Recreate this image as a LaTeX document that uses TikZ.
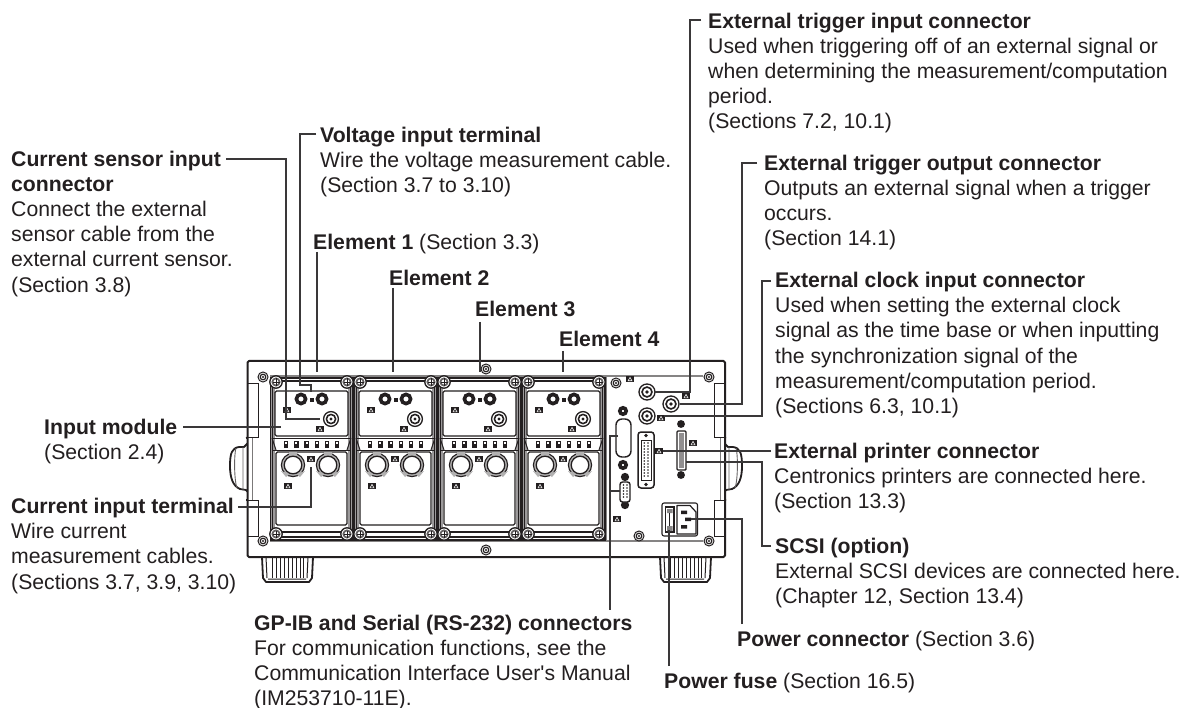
\documentclass[tikz,border=0pt]{standalone}
\usepackage{fontspec}
\setmainfont{Liberation Sans}
\newfontfamily\plainquote{Liberation Sans}
\definecolor{ink}{HTML}{231F20}
\definecolor{lead}{HTML}{3A3839}
\newcommand{\fsize}{\fontsize{21.2}{25.2}\selectfont}
\tikzset{
  x=1pt,y=-1pt,
  lab/.style={anchor=north west,inner sep=0pt,align=left,text=ink,font=\fsize},
  leader/.style={draw=lead,line width=1.1pt,line join=miter},
  body/.style={draw=ink,line width=2pt,line join=round},
  thinl/.style={draw=ink,line width=1pt},
  greyl/.style={draw=ink!55,line width=1.2pt},
  pics/wmark/.style={code={\fill[ink] (-3.6,-3.4) rectangle (3.6,3.4);\fill[white] (0,-2.2) -- (2.5,2.2) -- (-2.5,2.2) -- cycle;\fill[ink] (0,-.8) -- (1.3,1.5) -- (-1.3,1.5) -- cycle;}},
  pics/sscrew/.style={code={\draw[thinl,fill=white] (0,0) circle (5);\draw[ink,line width=1.2pt,fill=white] (0,0) circle (2.8);\fill[ink] (0,0) circle (1.1);}},
  pics/cscrew/.style={code={\draw[ink,line width=1.3pt,fill=white] (0,0) circle (6.2);\draw[ink!70,line width=1.8pt] (0,0) circle (3.6);\draw[ink,line width=.6pt] (-3.5,0)--(3.5,0) (0,-3.5)--(0,3.5);}},
  pics/bnc/.style={code={\draw[ink,line width=1.3pt,fill=white] (0,0) circle (#1);\draw[ink,line width=1.6pt] (0,0) circle (#1*.62);\fill[ink] (0,0) circle (#1*.22);}},
  pics/ring/.style={code={\draw[ink,line width=3.6pt,fill=white] (0,0) circle (#1);}},
  pics/cterm/.style={code={
    \draw[ink,line width=1.1pt,fill=ink!35] (0,0) circle (11.6);
    \fill[ink!35] (-4,-12.8) rectangle (4,-9) (-12,6) -- (-7,12) -- (-3,9) -- cycle (12,6) -- (7,12) -- (3,9) -- cycle;
    \draw[ink,line width=1.3pt,fill=white] (0,0) circle (8.8);}},
  pics/module/.style={code={
    \fill[ink!45] (270,379) rectangle (275,538);
    \fill[ink!45] (348,379) rectangle (353,538);
    \draw[ink,line width=1.1pt] (270.5,378) rectangle (353,540);
    \draw[ink,line width=1.4pt] (274,381) -- (349,381) (274,532) -- (349,532);
    \draw[ink,line width=1.8pt] (274,537) -- (349,537);
    \draw[ink,line width=1pt] (272.5,380) -- (272.5,536) (350.5,380) -- (350.5,536);
    \draw[ink,line width=1.4pt,fill=white,rounded corners=1.5pt] (275,391) rectangle (348,436);
    \draw[ink,line width=1.4pt,fill=white,rounded corners=1.5pt] (276,452) rectangle (347,525);
    \draw[ink,line width=1pt] (272,438) -- (351,438) (272,450) -- (351,450);
    \draw[ink,line width=1pt] (272,438) -- (276,450) (351,438) -- (347,450);
    \foreach \xx in {286,296.3,306.6,317,327,337}{\fill[ink] (\xx-2.2,440.5) rectangle (\xx+2.2,447.5);\fill[white] (\xx-1,441.5) rectangle (\xx+1,444);}
    \pic at (301,399) {ring=4.6};
    \pic at (322,399) {ring=4.6};
    \fill[ink] (309.5,397.5) rectangle (314,402);
    \pic at (331,419) {bnc=7.4};
    \pic at (287,410) {wmark};
    \pic at (320,429) {wmark};
    \pic at (293,465) {cterm};
    \pic at (328,465) {cterm};
    \pic at (311,459) {wmark};
    \pic at (288,486) {wmark};
    \pic at (276,382) {cscrew};
    \pic at (347,382) {cscrew};
    \pic at (276,534) {cscrew};
    \pic at (347,534) {cscrew};
  }},
  pics/foot/.style={code={
    \draw[ink,line width=1.8pt,line join=round,fill=white] (0,0) -- (1,21) -- (4,25) -- (47,25) -- (50,21) -- (51,0);
    \draw[ink,line width=1pt] (4,0) -- (5,21) (46,0) -- (45,21) (6,22)--(44,22);
    \foreach \xx in {10,14,18,22,26,30,34,38,41}{\draw[ink,line width=1pt] (\xx,1) -- (\xx,21);}
  }},
  pics/grip/.style={code={
    \draw[ink,line width=1.8pt,line join=round] (-1,0) -- (3,-1) -- (3,3) -- (0,6) -- (-3,9) -- (-8,9) .. controls (-15,10) and (-17,15) .. (-17,28) .. controls (-17,40) and (-14,48) .. (-7,51) -- (-1,52) -- (1,54) -- (3,57) -- (3,62) -- (-1,62);
    \draw[ink!70,line width=.9pt] (-11,10) .. controls (-13,16) and (-13,42) .. (-10,50) (-4,9) -- (-4,52);
  }},
}
\begin{document}
\begin{tikzpicture}
\useasboundingbox (0,0) rectangle (1183,708);
\fill[white] (0,0) rectangle (1183,708);
% feet
\pic at (262,557) {foot};
\pic at (660,557) {foot};
% handles
\pic at (247,438) {grip};
\begin{scope}[xshift=972pt,xscale=-1]
\pic[transform shape] at (247,438) {grip};
\end{scope}
% chassis
\fill[white] (248,361) rectangle (725,557);
\draw[body,rounded corners=1.5pt] (247.5,361) rectangle (725,557);
\draw[thinl] (258,383) -- (248,383) (258,383) -- (258,437) -- (248,437) (258,500) -- (248,500) (258,500) -- (258,536) -- (248,536);
\draw[thinl] (714,383) -- (724,383) (714,383) -- (714,437) -- (724,437) (714,500) -- (724,500) (714,500) -- (714,536) -- (724,536);
\draw[ink!60,line width=.9pt] (252,438) -- (252,500) (720,438) -- (720,500);
\draw[greyl] (270,376) -- (703,376) (270,541) -- (703,541) (606,376) -- (606,541);
% modules
\pic at (0,0) {module};
\pic at (84,0) {module};
\pic at (168,0) {module};
\pic at (252,0) {module};
% chassis screws
\pic at (263,377) {sscrew};
\pic at (263,541) {sscrew};
\pic at (709,377) {sscrew};
\pic at (709,541) {sscrew};
\pic at (486,369) {sscrew};
\pic at (486,550) {sscrew};
\pic at (616,383) {sscrew};
\pic at (639,536) {sscrew};
% rear connectors
\pic at (647,392) {bnc=8};
\pic at (671,404) {bnc=8};
\pic at (647,416) {bnc=8};
\pic at (623,411) {ring=3.2};
\pic at (623,465) {ring=3.2};
\draw[ink,line width=1.4pt,fill=white,rounded corners=6pt] (616,419) rectangle (631,457);
% 25-pin connector
\draw[ink,line width=1.5pt,fill=white,rounded corners=3pt] (638,432) rectangle (654,488);
\draw[ink,line width=1pt,fill=white] (641,440) -- (651,440) -- (651,480) -- (641,480) -- cycle;
\fill[ink] (646,435.5) circle (1.8) (646,484.5) circle (1.8);
\foreach \yy in {443,446,...,477}{\fill[ink] (644.2,\yy) circle (.8);\fill[ink] (648,\yy) circle (.8);}
% SCSI
\draw[ink,line width=1.4pt,fill=white,rounded corners=1pt] (677,431) rectangle (686,470);
\fill[ink!50] (679,433) rectangle (684,468);
\pic at (681,424) {ring=2};
\pic at (681,475) {ring=2};
% serial
\pic at (625,477) {ring=2.2};
\pic at (625,505) {ring=2.2};
\draw[ink,line width=1.4pt,fill=white,rounded corners=2.5pt] (620,482) rectangle (630,502);
\foreach \yy in {485,488,...,499}{\fill[ink] (623.5,\yy) circle (.8);\fill[ink] (627,\yy) circle (.8);}
% power inlet
\draw[ink,line width=1.1pt,fill=white,rounded corners=2pt] (662,503) rectangle (697.5,536);
\draw[ink,line width=1.1pt,fill=white] (665.5,507) rectangle (674,532);
\fill[ink!55] (667,509) rectangle (672.5,513) (667,526) rectangle (672.5,531);
\draw[ink,line width=1pt] (669.5,513) -- (669.5,526);
\draw[ink,line width=1.2pt,fill=white,line join=round] (677,505.5) -- (690,505.5) -- (696,512) -- (696,534) -- (677,534) -- cycle;
\fill[ink] (681,510.5) rectangle (687,514) (685,517.5) rectangle (691,521) (681,525) rectangle (687,528.5);
% warning marks
\foreach \p in {(630,379),(686,396),(661,418),(659,451),(693,443),(617,519)}{\pic at \p {wmark};}
% ---- leader ends at the device ----
\coordinate (senseEnd) at (320,419);
\coordinate (voltEnd) at (311,392);
\coordinate (el1) at (317,372);
\coordinate (el2) at (393,372);
\coordinate (el3) at (480,372);
\coordinate (el4) at (563,372);
\coordinate (modEnd) at (281,427);
\coordinate (curEnd) at (311,467);
\coordinate (trigInEnd) at (655,392);
\coordinate (trigOutEnd) at (680,404);
\coordinate (clockEnd) at (664,416);
\coordinate (printEnd) at (663,451);
\coordinate (scsiEnd) at (686,462);
\coordinate (powerEnd) at (691,519);
\coordinate (fuseEnd) at (669,530);
\coordinate (gpibEnd) at (618,436);
\coordinate (serialEnd) at (620,491);
% ---- labels ----
\node[lab] (tsense) at (11,150.5) {\textbf{Current sensor input}\\\textbf{connector}\\Connect the external\\sensor cable from the\\external current sensor.\\(Section 3.8)};
\node[lab] (tvolt) at (320,126.5) {\textbf{Voltage input terminal}\\Wire the voltage measurement cable.\\(Section 3.7 to 3.10)};
\node[lab] (tel1) at (313,233.5) {\textbf{Element 1} (Section 3.3)};
\node[lab] (tel2) at (389,269.5) {\textbf{Element 2}};
\node[lab] (tel3) at (475,300.5) {\textbf{Element 3}};
\node[lab] (tel4) at (559,330.5) {\textbf{Element 4}};
\node[lab] (tmod) at (44,418.5) {\textbf{Input module}\\(Section 2.4)};
\node[lab] (tcur) at (11,498) {\textbf{Current input terminal}\\Wire current\\measurement cables.\\(Sections 3.7, 3.9, 3.10)};
\node[lab] (tgpib) at (254,614.5) {\textbf{GP-IB and Serial (RS-232) connectors}\\For communication functions, see the\\Communication Interface User{\plainquote '}s Manual\\(IM253710-11E).};
\node[lab] (tfuse) at (664,672.5) {\textbf{Power fuse} (Section 16.5)};
\node[lab] (tpower) at (737,630.5) {\textbf{Power connector} (Section 3.6)};
\node[lab] (ttin) at (708,12.5) {\textbf{External trigger input connector}\\Used when triggering off of an external signal or\\when determining the measurement/computation\\period.\\(Sections 7.2, 10.1)};
\node[lab] (ttout) at (764,154.5) {\textbf{External trigger output connector}\\Outputs an external signal when a trigger\\occurs.\\(Section 14.1)};
\node[lab] (tclock) at (775,272) {\textbf{External clock input connector}\\Used when setting the external clock\\signal as the time base or when inputting\\the synchronization signal of the\\measurement/computation period.\\(Sections 6.3, 10.1)};
\node[lab] (tprint) at (774,442.5) {\textbf{External printer connector}\\Centronics printers are connected here.\\(Section 13.3)};
\node[lab] (tscsi) at (775,537.5) {\textbf{SCSI (option)}\\External SCSI devices are connected here.\\(Chapter 12, Section 13.4)};
% ---- free ends beside the labels ----
\coordinate (senseStart) at (226,159);
\coordinate (voltStart) at (316,134);
\coordinate (el1Top) at (317,252);
\coordinate (el2Top) at (393,288);
\coordinate (el3Top) at (480,322);
\coordinate (el4Top) at (563,351);
\coordinate (modStart) at (183,427);
\coordinate (curStart) at (238,507);
\coordinate (tinStart) at (701,20);
\coordinate (toutStart) at (757,163);
\coordinate (clockStart) at (771,281);
\coordinate (printStart) at (771,451);
\coordinate (scsiStart) at (771,546);
\coordinate (powerStart) at (742,624);
\coordinate (fuseStart) at (669,666);
\coordinate (gpibStart) at (610,610);
% ---- leaders ----
\draw[leader] (senseStart) -- (286,159) -- (286,419) -- (senseEnd);
\draw[leader] (voltStart) -- (300,134) -- (300,385) -- (311,385) -- (voltEnd);
\draw[leader] (el1Top) -- (el1);
\draw[leader] (el2Top) -- (el2);
\draw[leader] (el3Top) -- (el3);
\draw[leader] (el4Top) -- (el4);
\draw[leader] (modStart) -- (modEnd);
\draw[leader] (curStart) -- (311,507) -- (curEnd);
\draw[leader] (tinStart) -- (690,20) -- (690,392) -- (trigInEnd);
\draw[leader] (toutStart) -- (742,163) -- (742,404) -- (trigOutEnd);
\draw[leader] (clockStart) -- (762,281) -- (762,416) -- (clockEnd);
\draw[leader] (printStart) -- (printEnd);
\draw[leader] (scsiStart) -- (762,546) -- (762,462) -- (scsiEnd);
\draw[leader] (powerStart) -- (742,519) -- (powerEnd);
\draw[leader,line width=1.4pt] (fuseStart) -- (fuseEnd);
\draw[leader] (gpibEnd) -- (610,436) -- (gpibStart);
\draw[leader] (serialEnd) -- (610,491);
\end{tikzpicture}
\end{document}
